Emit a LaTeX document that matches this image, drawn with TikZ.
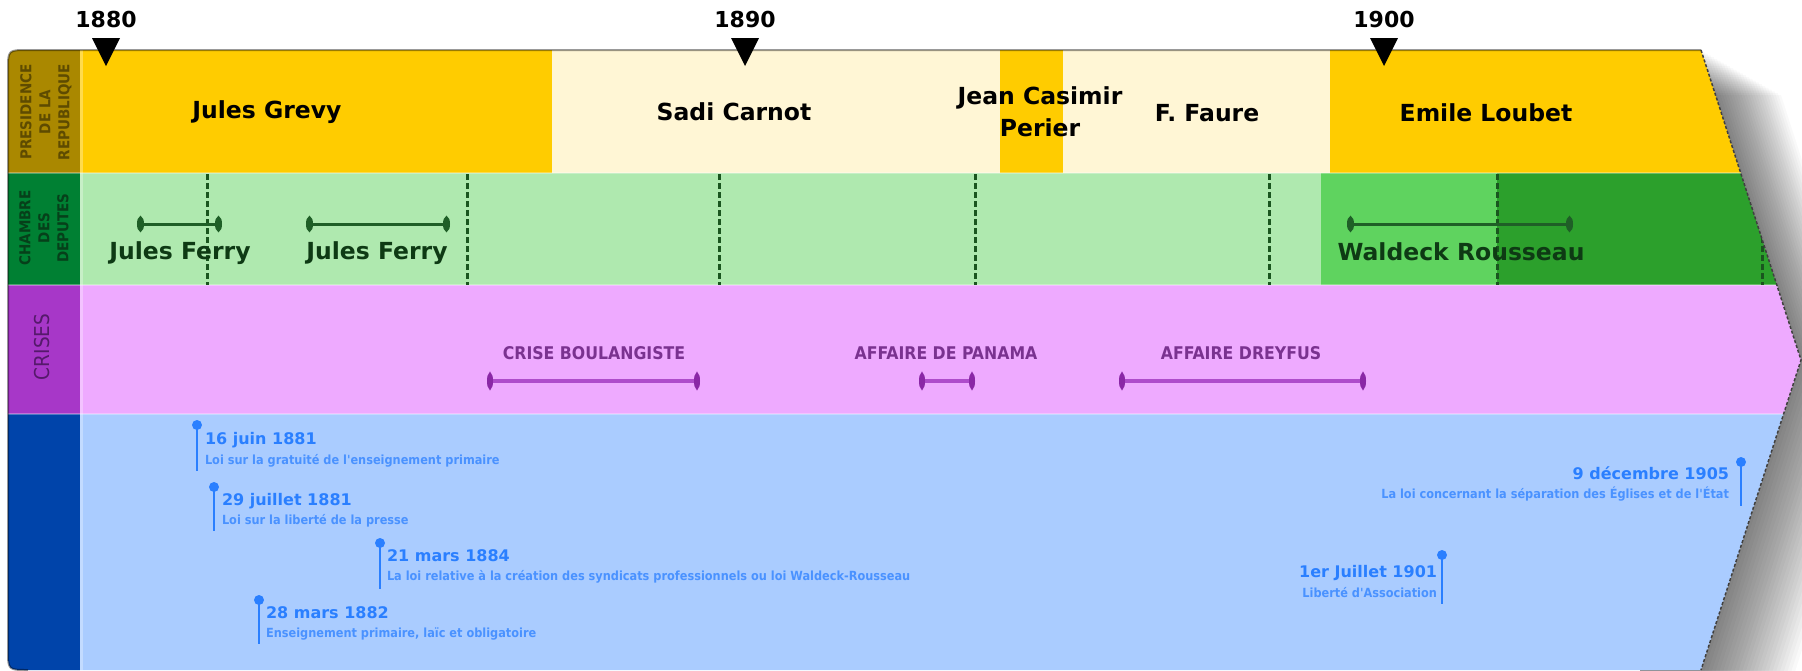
\documentclass[tikz,border=0pt]{standalone}
\usepackage{fontspec}
\setmainfont{DejaVu Sans}
\newfontfamily\condf{DejaVu Sans Condensed}
\usetikzlibrary{arrows.meta}
\definecolor{presA}{HTML}{AA8800}
\definecolor{presT}{HTML}{5E4B00}
\definecolor{yel}{HTML}{FFCC00}
\definecolor{cream}{HTML}{FFF6D5}
\definecolor{chA}{HTML}{008033}
\definecolor{chT}{HTML}{06401A}
\definecolor{chL}{HTML}{AFE9AF}
\definecolor{chM}{HTML}{5FD35F}
\definecolor{chD}{HTML}{2CA02C}
\definecolor{elec}{HTML}{1A551F}
\definecolor{chArr}{HTML}{1F5F27}
\definecolor{chTxt}{HTML}{0E3A14}
\definecolor{crA}{HTML}{A737C8}
\definecolor{crT}{HTML}{55196B}
\definecolor{crBg}{HTML}{EEAAFF}
\definecolor{crTxt}{HTML}{7A3290}
\definecolor{crLine}{HTML}{AE4CCB}
\definecolor{crTip}{HTML}{8A27A6}
\definecolor{blA}{HTML}{0044AA}
\definecolor{blBg}{HTML}{AACCFF}
\definecolor{evblue}{HTML}{2A7FFF}
\tikzset{
  yearlbl/.style={font=\fontsize{22}{26}\selectfont\bfseries},
  preslbl/.style={font=\fontsize{23.5}{32}\selectfont\bfseries, align=center},
  chlbl/.style={font=\fontsize{23.5}{26}\selectfont\bfseries, text=chTxt},
  charrow/.style={draw=chArr, line width=3pt, {Circle[length=7pt,width=15pt]}-{Circle[length=7pt,width=15pt]}},
  crlbl/.style={font=\condf\fontsize{17.5}{19}\selectfont\bfseries, text=crTxt},
  crarrow/.style={draw=crLine, line width=4.5pt, {Circle[length=6pt,width=16pt,fill=crTip,color=crTip]}-{Circle[length=6pt,width=16pt,fill=crTip,color=crTip]}},
  evtitle/.style={font=\fontsize{16}{18}\selectfont\bfseries, text=evblue},
  evsub/.style={font=\condf\fontsize{12.6}{14}\selectfont\bfseries, text=evblue!85},
  evstem/.style={draw=evblue, line width=2.5pt},
  collbl/.style={rotate=90, align=center, font=\condf\fontsize{15}{19}\selectfont\bfseries},
  elecline/.style={draw=elec, line width=3pt, dash pattern=on 6pt off 3pt},
  yeartri/.style={fill=black},
}
\begin{document}
\begin{tikzpicture}[x=1pt,y=-1pt, every node/.style={inner sep=0pt, outer sep=0pt}]
\useasboundingbox (0,0) rectangle (1802,670);
\fill[white] (0,0) rectangle (1802,670);

% shadow
\begin{scope}
  \clip (1640,0) rectangle (1802,670);
  \foreach \s in {2,4,...,50} {
    \fill[black, opacity=0.024, shift={(1.6*\s,0.9*\s)}]
      (28,50) -- (1701,50) -- (1801,360) -- (1701,670) -- (28,670) .. controls (8,670) .. (8,650) -- (8,70) .. controls (8,50) .. (28,50) -- cycle;
  }
\end{scope}

% body
\begin{scope}
  \clip (28,50) -- (1701,50) -- (1801,360) -- (1701,670) -- (28,670) .. controls (8,670) .. (8,650) -- (8,70) .. controls (8,50) .. (28,50) -- cycle;
  % label column
  \fill[presA] (0,40) rectangle (80,173);
  \fill[chA] (0,173) rectangle (80,285);
  \fill[crA] (0,285) rectangle (80,414);
  \fill[blA] (0,414) rectangle (80,680);
  % presidency row
  \fill[yel] (80,40) rectangle (552,173);
  \fill[cream] (552,40) rectangle (1000,173);
  \fill[yel] (1000,40) rectangle (1063,173);
  \fill[cream] (1063,40) rectangle (1330,173);
  \fill[yel] (1330,40) rectangle (1810,173);
  % chamber row
  \fill[chL] (80,173) rectangle (1321,285);
  \fill[chM] (1321,173) rectangle (1497,285);
  \fill[chD] (1497,173) rectangle (1810,285);
  % crises row
  \fill[crBg] (80,285) rectangle (1810,414);
  % blue row
  \fill[blBg] (80,414) rectangle (1810,680);
  % separators
  \draw[white, opacity=0.3, line width=2.5pt] (0,173) -- (1810,173) (0,285) -- (1810,285) (0,414) -- (1810,414);
  \draw[white, opacity=0.3, line width=3pt] (81.5,40) -- (81.5,680);
  % election lines
  \foreach \x in {207,467,719,975,1269,1497,1762} {
    \coordinate (e\x t) at (\x,174);
    \coordinate (e\x b) at (\x,285);
    \draw[elecline] (e\x t) -- (e\x b);
  }
\end{scope}

% outline
\draw[black, opacity=0.4, line width=2pt] (1701,50) -- (28,50) .. controls (8,50) .. (8,70) -- (8,650) .. controls (8,670) .. (28,670);
\draw[black!75, line width=1.5pt, dash pattern=on 3pt off 2pt] (1701,50) -- (1801,360) -- (1701,670);

% years
\node[yearlbl] (y1880) at (106,19) {1880};
\node[yearlbl] (y1890) at (745,19) {1890};
\node[yearlbl] (y1900) at (1384,19) {1900};
\coordinate (t1880) at (106,66);
\coordinate (t1890) at (745,66);
\coordinate (t1900) at (1384,66);
\foreach \t in {t1880,t1890,t1900} { \fill[yeartri] (\t) -- ++(-14,-28) -- ++(28,0) -- cycle; }

% column labels
\node[collbl, text=presT] (lpres) at (46,112) {PRESIDENCE\\DE LA\\REPUBLIQUE};
\node[collbl, text=chT] (lch) at (44,228) {CHAMBRE\\DES\\DEPUTES};
\node[collbl, text=crT, font=\condf\fontsize{20.5}{22}\selectfont] (lcr) at (42,347) {CRISES};

% presidents
\node[preslbl] (grevy) at (267,112) {Jules Grevy};
\node[preslbl] (carnot) at (734,112) {Sadi Carnot};
\node[preslbl] (perier) at (1040,112) {Jean Casimir\\Perier};
\node[preslbl] (faure) at (1207,113) {F. Faure};
\node[preslbl] (loubet) at (1486,113) {Emile Loubet};

% chamber
\coordinate (f1a) at (137,224); \coordinate (f1b) at (222,224);
\coordinate (f2a) at (306,224); \coordinate (f2b) at (450,224);
\coordinate (wra) at (1347,224); \coordinate (wrb) at (1573,224);
\draw[charrow] (f1a) -- (f1b);
\draw[charrow] (f2a) -- (f2b);
\draw[charrow] (wra) -- (wrb);
\node[chlbl] (ferry1) at (180,253) {Jules Ferry};
\node[chlbl] (ferry2) at (377,253) {Jules Ferry};
\node[chlbl] (waldeck) at (1461,252) {Waldeck Rousseau};

% crises
\node[crlbl] (boul) at (594,353) {CRISE BOULANGISTE};
\node[crlbl] (pana) at (946,353) {AFFAIRE DE PANAMA};
\node[crlbl] (drey) at (1241,353) {AFFAIRE DREYFUS};
\coordinate (ba) at (487,381); \coordinate (bb) at (700,381);
\coordinate (pa) at (919,381); \coordinate (pb) at (975,381);
\coordinate (da) at (1119,381); \coordinate (db) at (1366,381);
\draw[crarrow] (ba) -- (bb);
\draw[crarrow] (pa) -- (pb);
\draw[crarrow] (da) -- (db);

% events
\coordinate (p1t) at (197,425); \coordinate (p1b) at (197,471);
\coordinate (p2t) at (214,487); \coordinate (p2b) at (214,531);
\coordinate (p3t) at (380,543); \coordinate (p3b) at (380,589);
\coordinate (p4t) at (259,600); \coordinate (p4b) at (259,644);
\coordinate (p5t) at (1741,462); \coordinate (p5b) at (1741,506);
\coordinate (p6t) at (1442,555); \coordinate (p6b) at (1442,604);
\foreach \p in {p1,p2,p3,p4,p5,p6} {
  \draw[evstem] (\p t) -- (\p b);
  \fill[evblue] (\p t) circle (5);
}
\node[evtitle, anchor=west] (e1) at (205,440) {16 juin 1881};
\node[evsub, anchor=west] (e1s) at (205,461) {Loi sur la gratuité de l'enseignement primaire};
\node[evtitle, anchor=west] (e2) at (222,501) {29 juillet 1881};
\node[evsub, anchor=west] (e2s) at (222,521) {Loi sur la liberté de la presse};
\node[evtitle, anchor=west] (e3) at (387,556) {21 mars 1884};
\node[evsub, anchor=west] (e3s) at (387,577) {La loi relative à la création des syndicats professionnels ou loi Waldeck-Rousseau};
\node[evtitle, anchor=west] (e4) at (266,613) {28 mars 1882};
\node[evsub, anchor=west] (e4s) at (266,634) {Enseignement primaire, laïc et obligatoire};
\node[evtitle, anchor=east] (e5) at (1729,473) {9 décembre 1905};
\node[evsub, anchor=east] (e5s) at (1729,494) {La loi concernant la séparation des Églises et de l'État};
\node[evtitle, anchor=east] (e6) at (1437,573) {1er Juillet 1901};
\node[evsub, anchor=east] (e6s) at (1437,593) {Liberté d'Association};
\end{tikzpicture}
\end{document}
